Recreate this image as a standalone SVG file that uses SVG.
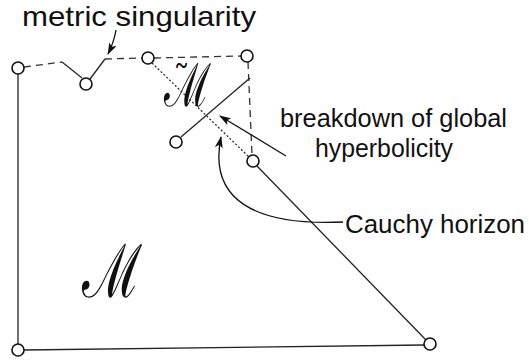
<svg xmlns="http://www.w3.org/2000/svg" width="529" height="363" viewBox="0 0 529 363">
<style>
.ln{fill:none;stroke:#222;stroke-width:1.3}
.dash{fill:none;stroke:#333;stroke-width:1.3;stroke-dasharray:7 5}
.dot{fill:none;stroke:#333;stroke-width:1.3;stroke-dasharray:2 2}
.nd{fill:#fff;stroke:#111;stroke-width:1.6}
.lbl{font-family:"Liberation Sans",Arial,sans-serif;fill:#111}
.cal{font-family:"DejaVu Serif","Noto Sans",serif;fill:#111}
.arr{fill:none;stroke:#111;stroke-width:1.3}
</style>
<defs>
<marker id="ah" viewBox="0 0 12 8" refX="11" refY="4" markerWidth="12" markerHeight="8" markerUnits="userSpaceOnUse" orient="auto">
<path d="M0,0 L12,4 L0,8 L3,4 Z" fill="#111"/>
</marker>
</defs>
<g id="connectors">
<line class="ln" x1="18" y1="74" x2="18" y2="344"/>
<line class="ln" x1="24" y1="350" x2="424" y2="345"/>
<line class="ln" x1="257" y1="166" x2="426" y2="340"/>
<line class="dash" x1="24" y1="67" x2="62" y2="62"/>
<line class="ln" x1="62" y1="62" x2="82" y2="78"/>
<line class="ln" x1="90" y1="79" x2="105" y2="59"/>
<line class="dash" x1="105" y1="59" x2="142" y2="58"/>
<line class="dash" x1="154" y1="58" x2="241" y2="56"/>
<line class="dash" x1="248" y1="62" x2="252" y2="155"/>
<line class="dot" x1="152" y1="63" x2="249" y2="157"/>
<line class="ln" x1="181" y1="137" x2="250" y2="78"/>
<path class="arr" d="M116,30 Q114,42 108,54" marker-end="url(#ah)"/>
<line class="arr" x1="286" y1="156" x2="220" y2="116" marker-end="url(#ah)"/>
<path class="arr" d="M343,222 C255,226 208,200 221,137" marker-end="url(#ah)"/>
</g>
<g id="n-topleft"><circle class="nd" cx="18" cy="68" r="6"/></g>
<g id="n-sing"><circle class="nd" cx="86" cy="84" r="6"/></g>
<g id="n-top2"><circle class="nd" cx="148" cy="58" r="6"/></g>
<g id="n-topright"><circle class="nd" cx="247" cy="56" r="6"/></g>
<g id="n-mid"><circle class="nd" cx="176" cy="142" r="6"/></g>
<g id="n-right"><circle class="nd" cx="253" cy="161" r="6"/></g>
<g id="n-botleft"><circle class="nd" cx="18" cy="350" r="6"/></g>
<g id="n-botright"><circle class="nd" cx="430" cy="344" r="6"/></g>
<g id="labels">
<text class="lbl" x="22" y="26" font-size="28" textLength="234" lengthAdjust="spacingAndGlyphs">metric singularity</text>
<text class="lbl" x="280" y="127" font-size="25" textLength="227" lengthAdjust="spacingAndGlyphs">breakdown of global</text>
<text class="lbl" x="315" y="157" font-size="25" textLength="138" lengthAdjust="spacingAndGlyphs">hyperbolicity</text>
<text class="lbl" x="345" y="233" font-size="25" textLength="180" lengthAdjust="spacingAndGlyphs">Cauchy horizon</text>
<text class="cal" x="82" y="297" font-size="74" textLength="60" lengthAdjust="spacingAndGlyphs">ℳ</text>
<text class="cal" x="164" y="106" font-size="60"><tspan textLength="47" lengthAdjust="spacingAndGlyphs">ℳ</tspan><tspan x="173" y="90" font-size="34">˜</tspan></text>
</g>
</svg>
